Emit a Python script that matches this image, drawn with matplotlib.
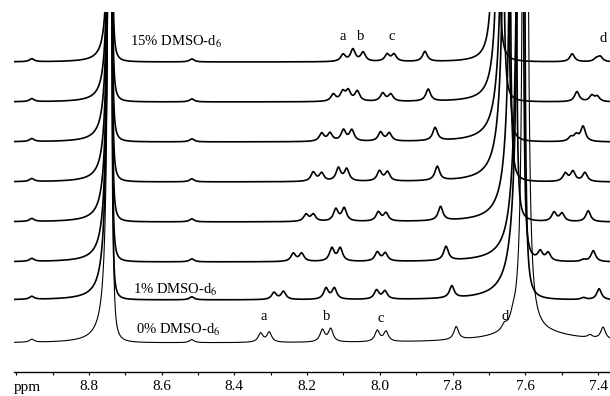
import numpy as np
import matplotlib
matplotlib.use("Agg")
import matplotlib.pyplot as plt
from matplotlib.ticker import MultipleLocator, FixedLocator

plt.rcParams['font.family'] = ['Liberation Serif', 'DejaVu Serif']
plt.rcParams['mathtext.fontset'] = 'stix'

# stacked 1H NMR spectra, top = 15% DMSO-d6, bottom = 0% DMSO-d6
offsets = [310, 270, 230, 190, 150, 110, 72, 29]   # baseline height of each trace

# small peaks (ppm, height)
peak_ppm = [
    [8.957, 8.517, 8.101, 8.074, 8.046, 7.980, 7.961, 7.876, 7.471, 7.405, 7.394],
    [8.957, 8.517, 8.128, 8.102, 8.087, 8.062, 7.992, 7.970, 7.867, 7.458, 7.417, 7.402],
    [8.957, 8.517, 8.160, 8.137, 8.100, 8.077, 7.998, 7.974, 7.848, 7.475, 7.460, 7.441],
    [8.957, 8.517, 8.183, 8.160, 8.114, 8.091, 8.001, 7.979, 7.842, 7.490, 7.469, 7.436],
    [8.957, 8.517, 8.203, 8.183, 8.121, 8.098, 8.004, 7.983, 7.833, 7.521, 7.499, 7.427],
    [8.957, 8.517, 8.238, 8.215, 8.132, 8.109, 8.007, 7.985, 7.818, 7.559, 7.537, 7.440, 7.413],
    [8.957, 8.517, 8.291, 8.265, 8.148, 8.125, 8.009, 7.986, 7.802, 7.440, 7.397],
    [8.957, 8.517, 8.328, 8.304, 8.158, 8.135, 8.007, 7.983, 7.790, 7.658, 7.634, 7.422, 7.386],
]
peak_h = [
    [3, 3, 7, 12, 9, 7, 7, 10, 8, 3, 5],
    [3, 3, 7, 9, 10, 10, 8, 7, 12, 10, 6, 5],
    [3, 3, 8, 8, 11, 11, 9, 8, 13, 4, 6, 15],
    [3, 3, 9, 8, 13, 12, 10, 9, 14, 8, 10, 9],
    [3, 3, 7, 7, 12, 13, 9, 8, 14, 9, 8, 11],
    [3, 3, 8, 8, 13, 13, 9, 8, 14, 9, 8, 2, 11],
    [3, 3, 7, 8, 11, 11, 9, 8, 12, 2, 11],
    [3, 3, 9, 10, 12, 13, 11, 10, 13, 5, 6, 3, 12],
]
small_width = 0.0078

# big peak at 8.74 (split Lorentzian half widths, ppm)
p874_ppm = [8.739] * 8
p874_wl = [0.00225, 0.00251, 0.00275, 0.00284, 0.00297, 0.00318, 0.00337, 0.00341]
p874_wr = [0.00087] * 7 + [0.00123]

# big peak near 7.6, moves with DMSO content
p76_ppm = [7.678, 7.664, 7.650, 7.645, 7.628, 7.609, 7.606, 7.600]
p76_wl = [0.00261, 0.00348, 0.00449, 0.00476, 0.00476, 0.00502, 0.00550, 0.00318]
p76_wr = [0.00142, 0.00123, 0.00123, 0.00123, 0.00123, 0.00142, 0.00174, 0.00318]
big_h = 3000
# broad foot under the 7.6 peak of the 0% trace
foot_ppm, foot_h, foot_w = 7.573, 9, 0.1375

tick_ppm = [8.8, 8.6, 8.4, 8.2, 8.0, 7.8, 7.6, 7.4]
tick_labels = ['8.8', '8.6', '8.4', '8.2', '8.0', '7.8', '7.6', '7.4']


def lor(x, x0, h, g):
    return h * g**2 / ((x - x0)**2 + g**2)


def split_lor(x, x0, h, gl, gr):
    g = np.where(x > x0, gl, gr)
    return h * g**2 / ((x - x0)**2 + g**2)


ppm = np.linspace(9.006, 7.367, 40000)

fig = plt.figure(figsize=(6.1, 3.96), dpi=100)
ax = fig.add_axes([14 / 610, 24 / 396, 596 / 610, 360 / 396])

for i in range(8):
    y = np.full_like(ppm, offsets[i], dtype=float)
    for p, h in zip(peak_ppm[i], peak_h[i]):
        y += lor(ppm, p, h, small_width)
    y += split_lor(ppm, p874_ppm[i], big_h, p874_wl[i], p874_wr[i])
    y += split_lor(ppm, p76_ppm[i], big_h, p76_wl[i], p76_wr[i])
    if i == 7:
        y += lor(ppm, foot_ppm, foot_h, foot_w)
    ax.plot(ppm, y, color='black', lw=0.8 if i == 7 else 1.2)

ax.set_xlim(9.006, 7.367)
ax.set_ylim(0, 360)

# labels on the spectra
ax.text(8.687, 330, '15% DMSO-d$_6$', fontsize=10.5, va='center')
ax.text(8.679, 82, '1% DMSO-d$_6$', fontsize=10.5, va='center')
ax.text(8.671, 42, '0% DMSO-d$_6$', fontsize=10.5, va='center')
for lab, px, py in zip(['a', 'b', 'c', 'd'], [8.101, 8.052, 7.966, 7.386], [336, 336, 335, 334]):
    ax.text(px, py, lab, fontsize=10.5, ha='center', va='center')
for lab, px, py in zip(['a', 'b', 'c', 'd'], [8.319, 8.145, 7.997, 7.656], [56, 56, 54, 55]):
    ax.text(px, py, lab, fontsize=10.5, ha='center', va='center')

for s in ['top', 'left', 'right']:
    ax.spines[s].set_visible(False)
ax.spines['bottom'].set_linewidth(1.0)
ax.set_yticks([])
ax.xaxis.set_major_locator(FixedLocator(tick_ppm))
ax.set_xticklabels(tick_labels)
ax.xaxis.set_minor_locator(MultipleLocator(0.1))
ax.tick_params(axis='x', which='both', length=2, width=0.8, direction='out',
               labelsize=11, pad=3.5)

fig.text(14 / 610, 8 / 396, 'ppm', fontsize=11, ha='left', va='center')

fig.savefig('out.png', dpi=100)
